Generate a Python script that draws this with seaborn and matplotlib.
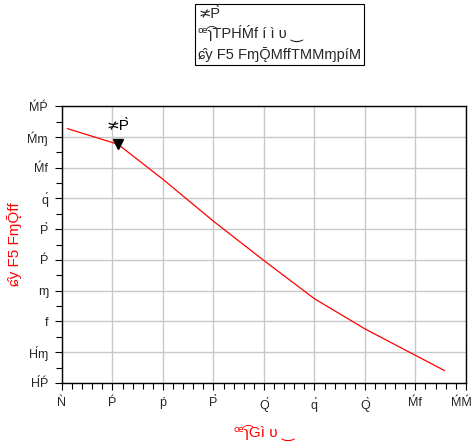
import matplotlib
matplotlib.use("Agg")
import matplotlib.pyplot as plt
from matplotlib.ticker import MultipleLocator, FixedLocator
from matplotlib.transforms import ScaledTranslation
import seaborn as sns
import pandas as pd

# data
x_vals = [0.105, 1.11, 2.0, 3.0, 4.0, 5.0, 6.0, 7.0, 7.58]
y_vals = [8.27, 7.76, 6.62, 5.26, 3.98, 2.74, 1.76, 0.90, 0.40]
marker_x = 1.11
marker_y = 7.76
marker_label = "≭P̀"
x_ticks = [0, 1, 2, 3, 4, 5, 6, 7, 8]
x_ticklabels = ["Ǹ", "Ṕ", "ṕ", "P̀", "Q́", "q́", "Q̀", "Ḿf", "ḾḾ"]
y_ticks = [0, 1, 2, 3, 4, 5, 6, 7, 8, 9]
y_ticklabels = ["H́Ṕ", "H́ɱ", "f", "ɱ", "Ṕ", "P̀", "q́", "Ḿf", "Ḿɱ", "ḾṔ"]
x_label = "ꟹ͡ɿGì υ ‿"
y_label = "ɕ̂y F5 FɱǬff"
legend_lines = ["≭P̀", "ꟹ͡ɿTPH́Ḿf í ì υ ‿", "ɕ̂y F5 FɱǬMffTMMɱpíM"]

sns.set_style("white")
plt.rcParams['font.family'] = ['Liberation Sans', 'DejaVu Sans']

fig = plt.figure(figsize=(4.74, 4.46), dpi=100)
ax = fig.add_axes([0.1308, 0.1413, 0.852, 0.6207])

df = pd.DataFrame({"x": x_vals, "y": y_vals})
sns.lineplot(data=df, x="x", y="y", ax=ax, color="#ff0000", linewidth=0.9, sort=False)
ax.plot([marker_x], [marker_y], marker="v", color="black", markersize=7, linestyle="none")
ax.annotate(marker_label, (marker_x, marker_y), xytext=(0, 8), textcoords="offset points",
            ha="center", va="bottom", fontsize=11, color="black")

ax.set_xlim(0, 8)
ax.set_ylim(0, 9)
ax.xaxis.set_major_locator(FixedLocator(x_ticks))
ax.yaxis.set_major_locator(FixedLocator(y_ticks))
ax.xaxis.set_minor_locator(MultipleLocator(0.2))
ax.yaxis.set_minor_locator(MultipleLocator(0.5))
ax.set_xticklabels(x_ticklabels, fontsize=9)
ax.set_yticklabels(y_ticklabels, fontsize=9)
ax.tick_params(which="both", direction="out", color="black", width=0.8)
ax.tick_params(which="major", length=5, pad=5)
ax.tick_params(which="minor", length=4)
ax.tick_params(axis="x", which="both", bottom=True)
ax.tick_params(axis="y", which="both", left=True)

# keep the last x tick label inside the figure edge
last = ax.get_xticklabels()[-1]
last.set_transform(last.get_transform() + ScaledTranslation(-4 / 100, 0, fig.dpi_scale_trans))

ax.grid(True, which="major", color="#c8c8c8", linewidth=1.0)
for s in ax.spines.values():
    s.set_visible(True)
    s.set_color("black")
    s.set_linewidth(1.0)

ax.set_xlabel(x_label, color="#ff0000", fontsize=11, labelpad=10)
ax.set_ylabel(y_label, color="#ff0000", fontsize=11, labelpad=4)

fig.text(0.418, 0.985, "\n".join(legend_lines), ha="left", va="top", fontsize=10.5,
         linespacing=1.35,
         bbox=dict(boxstyle="square,pad=0.2", facecolor="white", edgecolor="black", linewidth=0.8))

fig.savefig("out.png", dpi=100)
